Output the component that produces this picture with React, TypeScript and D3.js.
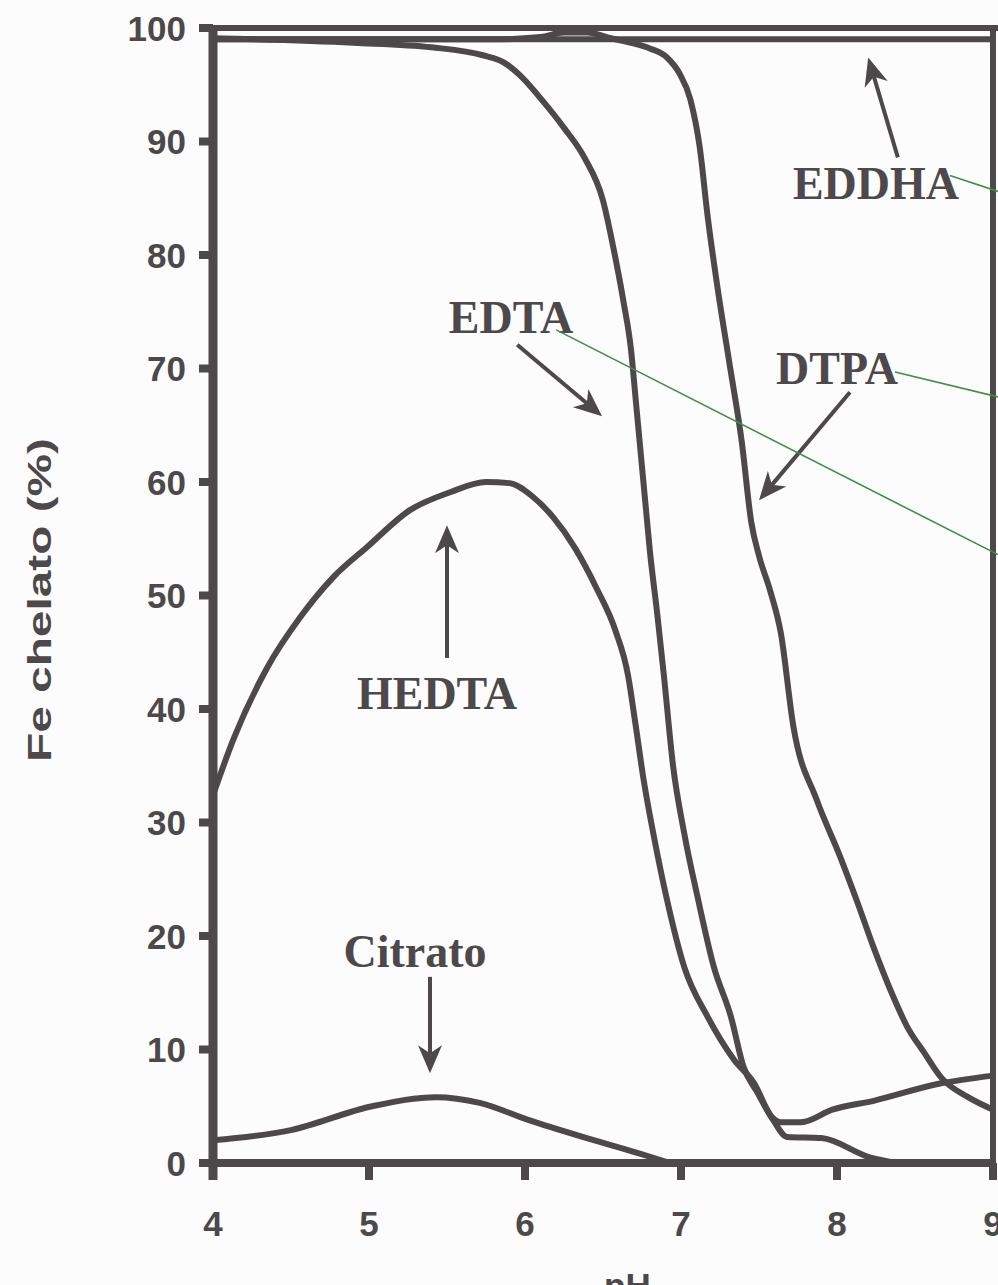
import * as d3 from 'd3';

// assi
const phTicks = [4, 5, 6, 7, 8, 9];
const pctTicks = [0, 10, 20, 30, 40, 50, 60, 70, 80, 90, 100];

// curve [pH, % Fe chelato]
const eddha: [number, number][] = [[4, 99], [9, 99]];

const edta: [number, number][] = [
  [4.0, 99.1], [4.9, 98.7], [5.4, 98.3], [5.73, 97.6], [5.86, 97.0], [5.97, 95.8],
  [6.1, 93.8], [6.25, 91.2], [6.38, 88.6], [6.5, 84.8], [6.57, 80.4], [6.63, 76.0],
  [6.68, 71.6], [6.71, 67.2], [6.74, 62.8], [6.77, 58.4], [6.8, 54.0], [6.85, 48.1],
  [6.89, 43.0], [6.95, 34.9], [7.02, 29.1], [7.11, 23.2], [7.21, 17.3], [7.32, 12.9],
  [7.4, 8.5], [7.49, 6.2], [7.59, 3.8], [7.68, 2.3], [7.9, 2.2], [8.21, 0.5], [8.38, 0],
];

const hedta: [number, number][] = [
  [4.0, 32.4], [4.13, 37.3], [4.35, 43.7], [4.56, 48.1], [4.77, 51.6], [4.99, 54.3],
  [5.26, 57.5], [5.52, 59.1], [5.75, 60.0], [5.9, 59.9], [6.05, 58.7], [6.18, 56.9],
  [6.32, 54.2], [6.46, 50.6], [6.58, 46.9], [6.66, 43.0], [6.71, 38.5], [6.76, 33.8],
  [6.83, 28.5], [6.91, 23.2], [7.02, 17.3], [7.17, 12.9], [7.34, 9.1], [7.47, 7.0],
  [7.58, 4.1], [7.64, 3.6], [7.77, 3.6], [7.97, 4.7], [8.24, 5.5], [8.66, 7.0], [9.0, 7.7],
];

const dtpa: [number, number][] = [
  [4.0, 99.0], [5.0, 99.0], [5.8, 99.0], [6.1, 99.2], [6.25, 99.6], [6.4, 99.6],
  [6.55, 99.1], [6.68, 98.7], [6.8, 98.2], [6.91, 97.4], [6.99, 96.0], [7.06, 93.7],
  [7.12, 89.5], [7.17, 83.5], [7.23, 77.5], [7.31, 70.5], [7.39, 63.5], [7.45, 56.5],
  [7.5, 53.5], [7.57, 50.5], [7.64, 46.7], [7.72, 38.5], [7.87, 32.0], [8.02, 27.0],
  [8.13, 23.0], [8.24, 18.8], [8.35, 15.0], [8.45, 12.0], [8.56, 9.7], [8.67, 7.5],
  [8.84, 5.8], [9.0, 4.7],
];

const citrato: [number, number][] = [
  [4.0, 2.0], [4.5, 2.9], [5.02, 5.0], [5.43, 5.8], [5.71, 5.3], [6.02, 3.8],
  [6.37, 2.3], [6.72, 0.9], [6.93, 0],
];

// etichette: testo, posizione testo, coda e punta della freccia (unità dati)
const labels = [
  { text: 'EDDHA', at: [8.25, 84.9], from: [8.39, 88.6], to: [8.2, 97.4] },
  { text: 'EDTA', at: [5.91, 73.1], from: [5.95, 72.1], to: [6.494, 65.8] },
  { text: 'DTPA', at: [8.0, 68.6], from: [8.083, 67.9], to: [7.5, 58.4] },
  { text: 'HEDTA', at: [5.436, 40.0], from: [5.5, 44.5], to: [5.5, 56.2] },
  { text: 'Citrato', at: [5.295, 17.3], from: [5.391, 16.4], to: [5.391, 7.9] },
];

// linee verdi di richiamo
const greenLines = [
  [[8.724, 87.0], [9.032, 85.6]],
  [[8.372, 69.7], [9.032, 67.5]],
  [[6.2, 73.4], [9.032, 53.6]],
];

const W = 998;
const H = 1285;
const ink = '#4d484a';

const x = d3.scaleLinear().domain([4, 9]).range([213, 993]);
const y = d3.scaleLinear().domain([0, 100]).range([1163, 28]);

const line = d3.line<[number, number]>()
  .x(d => x(d[0]))
  .y(d => y(d[1]))
  .curve(d3.curveMonotoneX);

// punta di freccia con intaglio
const arrowHead = (x1: number, y1: number, x2: number, y2: number) => {
  const len = Math.hypot(x2 - x1, y2 - y1);
  const ux = (x2 - x1) / len, uy = (y2 - y1) / len;
  const px = -uy, py = ux;
  const L = 28, hw = 12, notch = 8;
  const bx = x2 - ux * L, by = y2 - uy * L;
  const nx = x2 - ux * (L - notch), ny = y2 - uy * (L - notch);
  return `M${x2},${y2}L${bx + px * hw},${by + py * hw}L${nx},${ny}L${bx - px * hw},${by - py * hw}Z`;
};

export default function App() {
  const series = [eddha, edta, hedta, dtpa, citrato];
  return (
    <svg width={W} height={H} style={{ position: 'absolute', left: 0, top: 0 }}>
      <rect width={W} height={H} fill="#fcfcfd" />

      {/* curve */}
      <g fill="none" stroke={ink} strokeWidth={6} strokeLinejoin="round" strokeLinecap="round">
        {series.map((s, i) => <path key={i} d={line(s) || ''} />)}
      </g>

      {/* cornice e assi */}
      <g stroke={ink} fill="none">
        <line x1={199} x2={998} y1={y(100)} y2={y(100)} strokeWidth={6} />
        <line x1={x(9)} x2={x(9)} y1={y(100)} y2={y(0) + 17} strokeWidth={6} />
        <line x1={199} x2={996} y1={y(0)} y2={y(0)} strokeWidth={8} />
        <line x1={x(4)} x2={x(4)} y1={y(100) - 3} y2={y(0) + 17} strokeWidth={9} />
        {pctTicks.map(t => (
          <line key={t} x1={199} x2={x(4)} y1={y(t)} y2={y(t)} strokeWidth={8} />
        ))}
        {phTicks.map(t => (
          <line key={t} x1={x(t)} x2={x(t)} y1={y(0)} y2={y(0) + 17} strokeWidth={8} />
        ))}
      </g>

      <g fill={ink} fontFamily="'Liberation Sans', Arial, sans-serif" fontWeight="bold" fontSize={35}>
        {pctTicks.map(t => (
          <text key={t} x={186} y={y(t)} dy="0.36em" textAnchor="end">{t}</text>
        ))}
        {phTicks.map(t => (
          <text key={t} x={x(t)} y={1236} textAnchor="middle">{t}</text>
        ))}
        <text x={604} y={1298}>pH</text>
        <text transform="translate(51,600) rotate(-90)" textAnchor="middle" fontSize={33}
          textLength={324} lengthAdjust="spacingAndGlyphs">Fe chelato (%)</text>
      </g>

      {/* etichette e frecce */}
      <g fill={ink} fontFamily="'Liberation Serif', 'Times New Roman', serif" fontWeight="bold" fontSize={46}>
        {labels.map(l => {
          const x1 = x(l.from[0]), y1 = y(l.from[1]);
          const x2 = x(l.to[0]), y2 = y(l.to[1]);
          const len = Math.hypot(x2 - x1, y2 - y1);
          const sx = x2 - ((x2 - x1) / len) * 20, sy = y2 - ((y2 - y1) / len) * 20;
          return (
            <g key={l.text}>
              <text x={x(l.at[0])} y={y(l.at[1])} textAnchor="middle">{l.text}</text>
              <line x1={x1} y1={y1} x2={sx} y2={sy} stroke={ink} strokeWidth={4} />
              <path d={arrowHead(x1, y1, x2, y2)} />
            </g>
          );
        })}
      </g>

      <g stroke="#3f8f46" strokeWidth={1.6}>
        {greenLines.map((g, i) => (
          <line key={i} x1={x(g[0][0])} y1={y(g[0][1])} x2={x(g[1][0])} y2={y(g[1][1])} />
        ))}
      </g>
    </svg>
  );
}
